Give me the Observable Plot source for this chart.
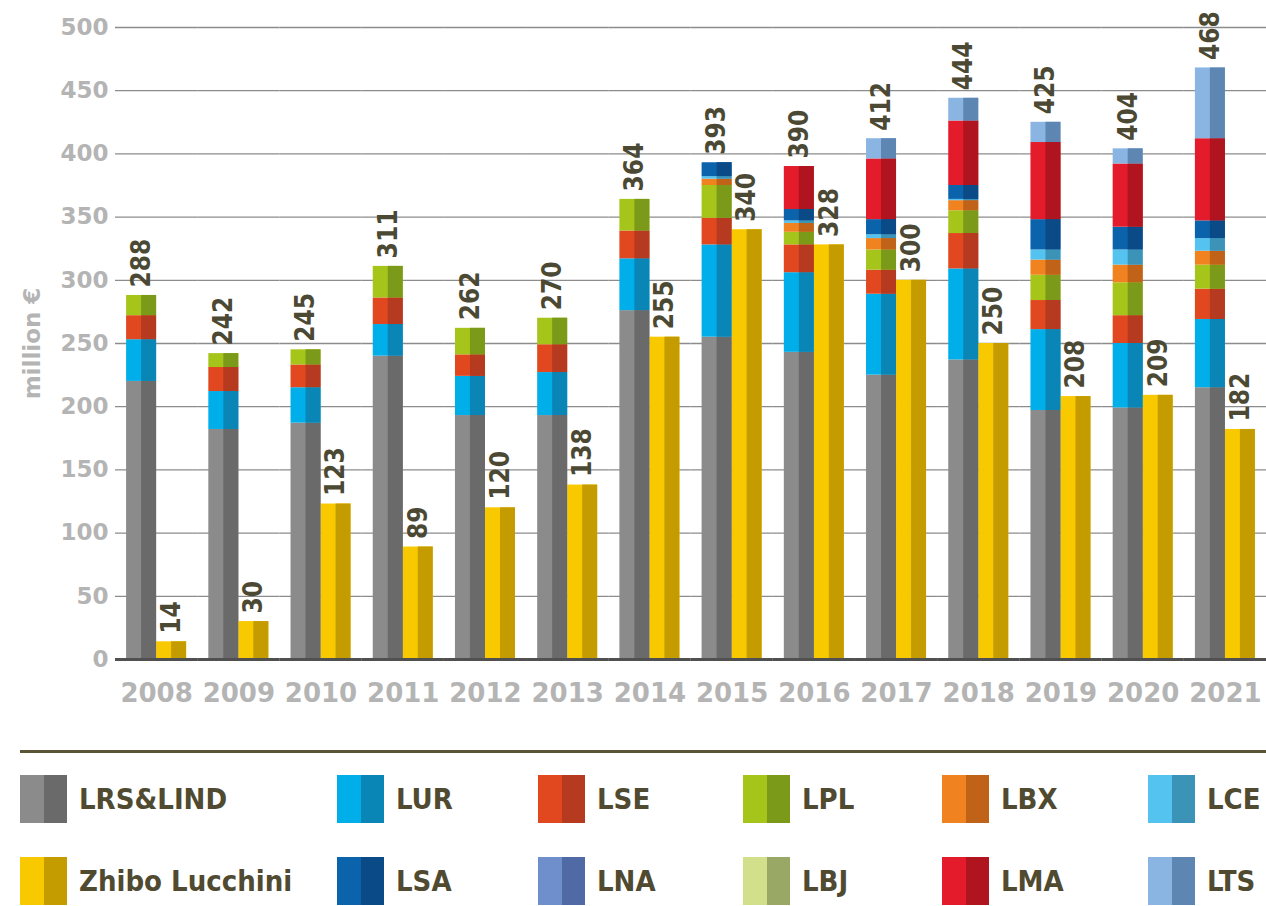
<!DOCTYPE html>
<html><head><meta charset="utf-8">
<script src="https://cdn.jsdelivr.net/npm/d3@7"></script>
<script src="https://cdn.jsdelivr.net/npm/@observablehq/plot@0.6"></script>
<style>
body{margin:0;background:#fff;width:1266px;height:906px;overflow:hidden;position:relative;font-family:"DejaVu Sans",sans-serif}
#chart{position:absolute;left:0;top:0}
#rule{position:absolute;left:20px;right:0;top:750px;height:3px;background:#5b5535}
.item{position:absolute;display:flex;align-items:center;height:48px}
.sw{width:47px;height:48px;margin-right:12px}
.lbl{font-family:"DejaVu Sans Condensed","DejaVu Sans",sans-serif;font-stretch:condensed;font-weight:bold;font-size:29px;color:#4f4a30;white-space:nowrap}
</style></head><body>
<div id="chart"></div><div id="rule"></div><div id="legend"></div>
<script>
// ---- data ----
const years = [2008, 2009, 2010, 2011, 2012, 2013, 2014, 2015, 2016, 2017, 2018, 2019, 2020, 2021];
const lrsLind = [220, 182, 187, 240, 193, 193, 276, 255, 243, 225, 237, 197, 199, 215];
const lur     = [33, 30, 28, 25, 31, 34, 41, 73, 63, 64, 72, 64, 51, 54];
const lse     = [19, 19, 18, 21, 17, 22, 22, 21, 22, 19, 28, 23, 22, 24];
const lpl     = [16, 11, 12, 25, 21, 21, 25, 26, 10, 16, 18, 20, 26, 19];
const lbx     = [0, 0, 0, 0, 0, 0, 0, 5, 7, 9, 8, 12, 14, 11];
const lce     = [0, 0, 0, 0, 0, 0, 0, 2, 2, 3, 1, 8, 12, 10];
const lsa     = [0, 0, 0, 0, 0, 0, 0, 11, 9, 12, 11, 24, 18, 14];
const lna     = [0, 0, 0, 0, 0, 0, 0, 0, 0, 0, 0, 0, 0, 0];
const lbj     = [0, 0, 0, 0, 0, 0, 0, 0, 0, 0, 0, 0, 0, 0];
const lma     = [0, 0, 0, 0, 0, 0, 0, 0, 34, 48, 51, 61, 50, 65];
const lts     = [0, 0, 0, 0, 0, 0, 0, 0, 0, 16, 18, 16, 12, 56];
const zhibo   = [14, 30, 123, 89, 120, 138, 255, 340, 328, 300, 250, 208, 209, 182];
const totals  = [288, 242, 245, 311, 262, 270, 364, 393, 390, 412, 444, 425, 404, 468];
const yTicks  = [0, 50, 100, 150, 200, 250, 300, 350, 400, 450, 500];
const legendNames = ["LRS&LIND", "LUR", "LSE", "LPL", "LBX", "LCE", "Zhibo Lucchini", "LSA", "LNA", "LBJ", "LMA", "LTS"];

const colors = {
  "LRS&LIND": ["#8b8b8b", "#6a6a6a"],
  "Zhibo Lucchini": ["#f9c900", "#c49c00"],
  "LUR": ["#00aeea", "#0a86b6"],
  "LSE": ["#e2481f", "#b63a20"],
  "LPL": ["#a6c51b", "#7b9a1a"],
  "LBX": ["#f0821f", "#c06318"],
  "LCE": ["#55c3ef", "#3b93b8"],
  "LSA": ["#0b63ab", "#0a4b87"],
  "LNA": ["#6f8fcc", "#4f6aa5"],
  "LBJ": ["#d3e08b", "#9aa865"],
  "LMA": ["#e31b2a", "#b0141f"],
  "LTS": ["#8ab5e2", "#5e86b2"]
};

const stackSeries = [["LRS&LIND", lrsLind], ["LUR", lur], ["LSE", lse], ["LPL", lpl], ["LBX", lbx],
  ["LCE", lce], ["LSA", lsa], ["LNA", lna], ["LBJ", lbj], ["LMA", lma], ["LTS", lts]];

const rows = [];
years.forEach((year, i) => {
  stackSeries.forEach(([name, vals]) => rows.push({year, bar: "group", series: name, value: vals[i]}));
  rows.push({year, bar: "zhibo", series: "Zhibo Lucchini", value: zhibo[i]});
});
const labels = years.flatMap((year, i) => [
  {year, bar: "group", value: totals[i]},
  {year, bar: "zhibo", value: zhibo[i]}
]);

const valueFont = '"DejaVu Sans Condensed", "DejaVu Sans", sans-serif';

const chart = Plot.plot({
  width: 1266,
  height: 740,
  marginTop: 27,
  marginBottom: 81,
  marginLeft: 115,
  marginRight: 0,
  style: {fontFamily: '"DejaVu Sans", sans-serif', background: "transparent"},
  fx: {domain: years, padding: 0, round: false},
  x: {domain: ["group", "zhibo"], paddingInner: 0, paddingOuter: 0.37, round: false, axis: null},
  y: {domain: [0, 500], axis: null},
  marks: [
    Plot.gridY(yTicks, {stroke: "#8c8c8c", strokeOpacity: 1, strokeWidth: 1.3}),
    Plot.barY(rows, Plot.stackY({fx: "year", x: "bar", y: "value", fill: d => colors[d.series][0]})),
    Plot.barY(rows, Plot.stackY({fx: "year", x: "bar", y: "value", fill: d => colors[d.series][1], insetLeft: 15})),
    Plot.ruleY([0], {stroke: "#505050", strokeWidth: 3}),
    Plot.text(labels, {fx: "year", x: "bar", y: "value", text: d => String(d.value), rotate: -90,
      textAnchor: "start", dy: -8, fontSize: 26, fontWeight: "bold", fontFamily: valueFont, fill: "#4b4934"}),
    Plot.axisY(yTicks, {anchor: "left", tickSize: 0, tickPadding: 7, fontSize: 23, fontWeight: "bold",
      color: "#b4b4b4", label: "million €", labelArrow: "none", labelAnchor: "center", labelOffset: 92}),
    Plot.axisFx({anchor: "bottom", tickSize: 0, tickPadding: 24, fontSize: 26, fontWeight: "bold",
      color: "#b4b4b4", label: null, tickFormat: d => String(d)})
  ]
});
document.getElementById("chart").appendChild(chart);

// ---- legend ----
const colX = [20, 337, 538, 743, 942, 1148];
const rowY = [775, 857];
const legend = document.getElementById("legend");
legendNames.forEach((name, i) => {
  const item = document.createElement("div");
  item.className = "item";
  item.style.left = colX[i % 6] + "px";
  item.style.top = rowY[Math.floor(i / 6)] + "px";
  const sw = document.createElement("div");
  sw.className = "sw";
  sw.style.background = `linear-gradient(to right, ${colors[name][0]} 50%, ${colors[name][1]} 50%)`;
  const lbl = document.createElement("span");
  lbl.className = "lbl";
  lbl.textContent = name;
  item.appendChild(sw);
  item.appendChild(lbl);
  legend.appendChild(item);
});
</script>
</body></html>
